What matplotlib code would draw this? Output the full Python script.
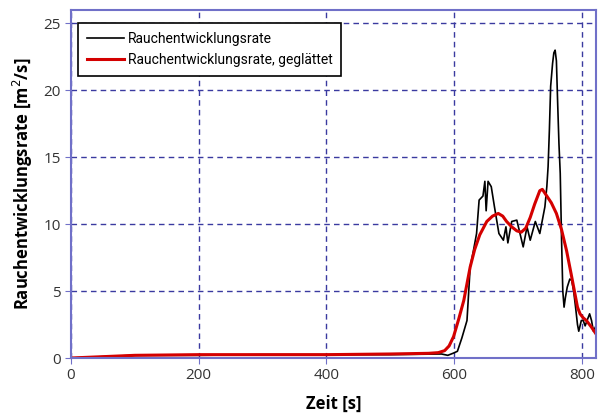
import matplotlib.pyplot as plt

# values
zeit_roh = [0, 100, 200, 300, 400, 500, 580, 590, 598, 605, 612, 620, 625, 630, 635, 639, 645,
            648, 650, 653, 658, 663, 670, 677, 681, 684, 690, 698, 703, 708, 714, 719, 727,
            734, 742, 745, 747, 749, 751, 754, 756, 758, 760, 762, 764, 766, 768, 770, 772,
            774, 777, 781, 784, 787, 790, 793, 795, 797, 799, 802, 805, 808, 812, 815, 818, 822]
rate_roh = [0.0, 0.2, 0.2, 0.25, 0.25, 0.25, 0.3, 0.2, 0.35, 0.5, 1.5, 2.8, 6.8, 8.0, 9.3, 11.8, 12.1,
            13.2, 11.0, 13.2, 12.8, 11.3, 9.3, 8.8, 9.8, 8.6, 10.2, 10.3, 9.3, 8.3, 9.8, 8.8, 10.2,
            9.3, 11.3, 12.8, 14.3, 17.0, 20.3, 22.0, 22.8, 23.0, 22.2, 19.0, 16.0, 13.8, 9.0, 5.0, 3.8,
            4.5, 5.3, 5.9, 5.8, 5.0, 3.8, 2.5, 2.0, 2.4, 2.8, 2.8, 2.4, 2.8, 3.3, 2.8, 2.0, 2.4]

zeit_glatt = [0, 100, 200, 300, 400, 500, 560, 575, 585, 592, 599, 607, 615, 625, 632, 640, 651,
              660, 669, 676, 682, 690, 698, 705, 712, 719, 726, 734, 738, 745, 752, 760, 768,
              776, 783, 789, 793, 797, 802, 807, 815, 822]
rate_glatt = [0.0, 0.2, 0.25, 0.25, 0.25, 0.3, 0.35, 0.4, 0.55, 0.9, 1.6, 2.9, 4.3, 6.8, 8.1, 9.2, 10.2,
              10.6, 10.8, 10.6, 10.2, 9.8, 9.5, 9.4, 9.7, 10.5, 11.5, 12.5, 12.6, 12.1, 11.6, 10.8, 9.6,
              8.0, 6.3, 4.8, 3.8, 3.3, 3.0, 2.8, 2.3, 1.8]

plt.rcParams['font.family'] = ['Open Sans', 'DejaVu Sans']

fig = plt.figure(figsize=(5.98, 4.17), dpi=100)
ax = fig.add_axes([71 / 598, 1 - 358 / 417, (596 - 71) / 598, (358 - 10) / 417])

ax.plot(zeit_roh, rate_roh, color='black', lw=1.2, label='Rauchentwicklungsrate')
ax.plot(zeit_glatt, rate_glatt, color='#d40000', lw=2.2, label='Rauchentwicklungsrate, geglättet')

ax.set_xlim(0, 822)
ax.set_ylim(0, 26)
ax.set_xticks([0, 200, 400, 600, 800])
ax.set_yticks([0, 5, 10, 15, 20, 25])
ax.grid(True, color='#3a3aa0', linestyle=(0, (4, 3)), lw=1)
for s in ax.spines.values():
    s.set_color('#7070c8')
    s.set_linewidth(1.5)
ax.tick_params(colors='#7070c8', labelcolor='#333333', labelsize=11, length=4)

ax.set_xlabel('Zeit [s]', fontsize=12, fontweight='bold', labelpad=8)
ax.set_ylabel('Rauchentwicklungsrate [m$^2$/s]', fontsize=12, fontweight='bold', labelpad=6)

leg = ax.legend(loc='upper left', bbox_to_anchor=(0.014, 0.962), borderaxespad=0,
                fancybox=False, framealpha=1, edgecolor='black',
                prop={'family': 'Roboto', 'size': 10},
                handlelength=2.7, handletextpad=0.3, borderpad=0.6, labelspacing=0.55)
leg.get_frame().set_linewidth(1.2)

fig.savefig('out.png', dpi=100)
